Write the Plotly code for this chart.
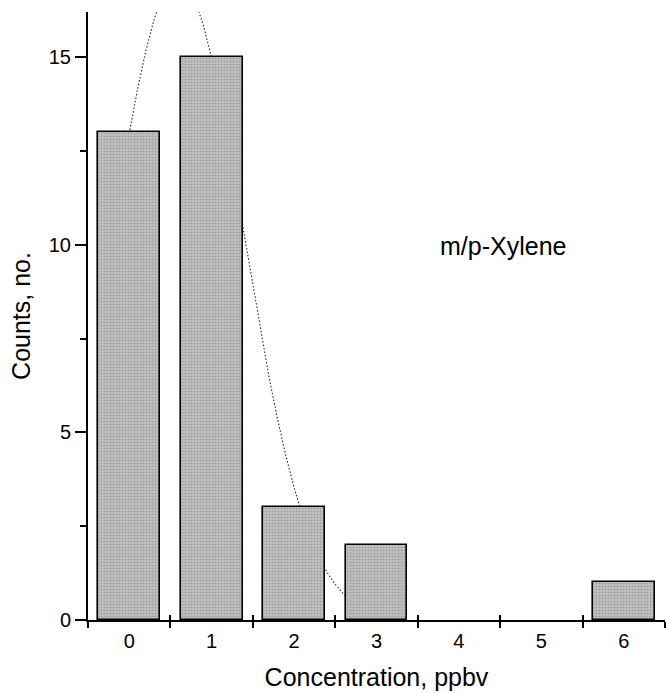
import plotly.graph_objects as go

# Data
concentration = [0, 1, 2, 3, 4, 5, 6]
counts = [13, 15, 3, 2, 0, 0, 1]

# Dotted fitted curve (points estimated along the drawn curve)
fit_x = [0.0, 0.1, 0.2, 0.3, 0.4, 0.5, 0.6, 0.7, 0.8, 0.9, 1.0, 1.1, 1.2, 1.3, 1.4,
         1.5, 1.6, 1.7, 1.8, 1.9, 2.0, 2.1, 2.2, 2.3, 2.4, 2.5, 2.6, 2.7, 2.8]
fit_y = [12.97, 14.13, 15.15, 15.99, 16.62, 16.99, 17.10, 16.94, 16.51, 15.84, 14.96,
         13.91, 12.73, 11.46, 10.16, 8.86, 7.61, 6.43, 5.35, 4.38, 3.53, 2.80, 2.19,
         1.68, 1.27, 0.95, 0.69, 0.50, 0.35]

x_labels = ["0", "1", "2", "3", "4", "5", "6"]
bin_edges = [-0.5, 0.5, 1.5, 2.5, 3.5, 4.5, 5.5, 6.5]
y_major = [0, 5, 10, 15]
y_minor = [2.5, 7.5, 12.5]

FONT = "Liberation Sans, Arial, sans-serif"
XR = [-0.5, 6.5]
YR = [0, 16.2]

fig = go.Figure()

# curve on the base axes (drawn underneath the bars)
fig.add_trace(go.Scatter(
    x=fit_x, y=fit_y, mode="lines",
    line=dict(color="#222222", width=1.1, dash="1.5px,2px"),
    xaxis="x", yaxis="y", showlegend=False, hoverinfo="skip"))

# bars on overlaying axes so they cover the curve
fig.add_trace(go.Bar(
    x=concentration, y=counts, width=0.75,
    marker=dict(color="#b0b0b0",
                line=dict(color="black", width=[1.6 if c > 0 else 0 for c in counts]),
                pattern=dict(shape=".", size=3, solidity=0.4,
                             fgcolor="#777777", bgcolor="#c4c4c4")),
    xaxis="x2", yaxis="y2", showlegend=False))

fig.update_layout(
    width=666, height=694,
    margin=dict(l=88, r=1, t=12, b=74),
    paper_bgcolor="white", plot_bgcolor="rgba(0,0,0,0)",
    font=dict(family=FONT, size=21, color="black"),
    bargap=0,
    xaxis=dict(
        range=XR, tickvals=concentration, ticktext=x_labels,
        ticks="outside", ticklen=0, tickwidth=0,
        minor=dict(tickvals=bin_edges, ticks="outside", ticklen=6,
                   tickwidth=1.5, tickcolor="black"),
        showline=True, linecolor="black", linewidth=2,
        showgrid=False, zeroline=False,
        tickfont=dict(size=20, family=FONT),
        ticklabelstandoff=2,
        title=dict(text="Concentration, ppbv", font=dict(size=25, family=FONT), standoff=17),
    ),
    yaxis=dict(
        range=YR, tickvals=y_major,
        ticks="outside", ticklen=11, tickwidth=1.5, tickcolor="black",
        minor=dict(tickvals=y_minor, ticks="outside", ticklen=6,
                   tickwidth=1.5, tickcolor="black"),
        showline=True, linecolor="black", linewidth=2,
        showgrid=False, zeroline=False,
        tickfont=dict(size=20, family=FONT),
        title=dict(text="Counts, no.", font=dict(size=25, family=FONT), standoff=11),
    ),
    xaxis2=dict(
        range=XR, overlaying="x", anchor="y2", side="bottom",
        tickvals=bin_edges, ticks="inside", ticklen=5, tickwidth=1.5, tickcolor="black",
        showticklabels=False, showline=False, showgrid=False, zeroline=False,
    ),
    yaxis2=dict(
        range=YR, overlaying="y", anchor="x2", side="left",
        showticklabels=False, ticks="", showline=False, showgrid=False, zeroline=False,
    ),
    annotations=[dict(
        text="m/p-Xylene", x=0.7195, y=0.615, xref="paper", yref="paper",
        xanchor="center", yanchor="middle", showarrow=False,
        font=dict(size=25, family=FONT, color="black"))],
)

fig.write_html("out.html")
